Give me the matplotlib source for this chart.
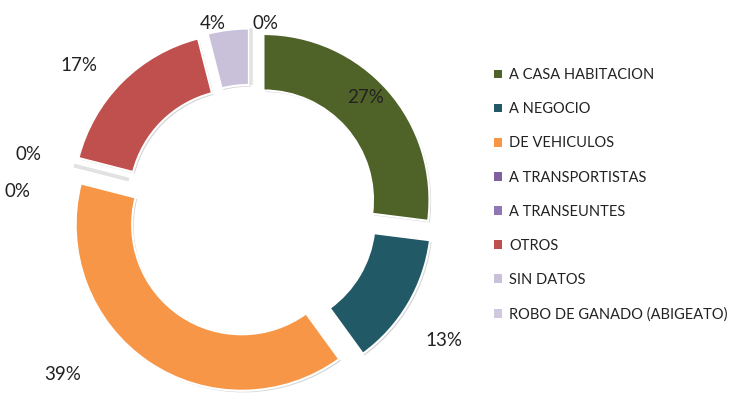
import matplotlib
matplotlib.use("Agg")
import numpy as np
import matplotlib.pyplot as plt
import matplotlib.patheffects as pe
from matplotlib.patches import Patch

categories = ["A CASA HABITACION", "A NEGOCIO", "DE VEHICULOS", "A TRANSPORTISTAS",
              "A TRANSEUNTES", "OTROS", "SIN DATOS", "ROBO DE GANADO (ABIGEATO)"]
values = [27, 13, 39, 0, 0, 17, 4, 0]
colors = ["#4F6228", "#215967", "#F79646", "#7E60A0",
          "#8F76B5", "#C0504D", "#C9C1DA", "#D0C8DF"]
# label placement: (angle in degrees, distance in radii) around the ring centre
label_pos = [(44.7, 0.97), (-33.9, 1.40), (-139.0, 1.50), (175.3, 1.41),
             (165.8, 1.38), (139.8, 1.36), (101.5, 1.15), (85.7, 1.13)]

W, H = 744, 397
fig = plt.figure(figsize=(W / 100, H / 100), dpi=100)
ax = fig.add_axes([0, 0, 1, 1])

R = 166.0           # ring radius in pixels
cx, cy = 251, 397 - 211

wedges, _ = ax.pie(values, colors=colors, startangle=90, counterclock=False,
                   explode=[0.1] * len(values), radius=1.0,
                   wedgeprops=dict(width=0.34, edgecolor="white", linewidth=1.5))
for w, v in zip(wedges, values):
    if v == 0:
        # empty slices collapse to a thin spoke
        w.set_edgecolor("#E2E2E2")
        w.set_linewidth(2.5)
    w.set_path_effects([pe.SimplePatchShadow(offset=(1.2, -1.2), shadow_rgbFace="#888888", alpha=0.35),
                        pe.Normal()])

for v, (ang, dist) in zip(values, label_pos):
    t = np.deg2rad(ang)
    ax.text(dist * np.cos(t), dist * np.sin(t), f"{v}%", ha="center", va="center",
            fontsize=13.5, family=["Lato", "DejaVu Sans"], color="#222222")

ax.set_xlim(-cx / R, (W - cx) / R)
ax.set_ylim(-cy / R, (H - cy) / R)
ax.set_aspect("auto")
ax.axis("off")

handles = [Patch(facecolor=c, edgecolor="none") for c in colors]
leg = fig.legend(handles, categories, loc="upper left", bbox_to_anchor=(481 / W, 1 - 55 / H),
                 frameon=False, handlelength=0.55, handleheight=0.55, handletextpad=0.5,
                 labelspacing=1.38, prop={"family": ["Lato", "DejaVu Sans"], "size": 10.5})
for t in leg.get_texts():
    t.set_color("#222222")

fig.savefig("out.png", dpi=100)
